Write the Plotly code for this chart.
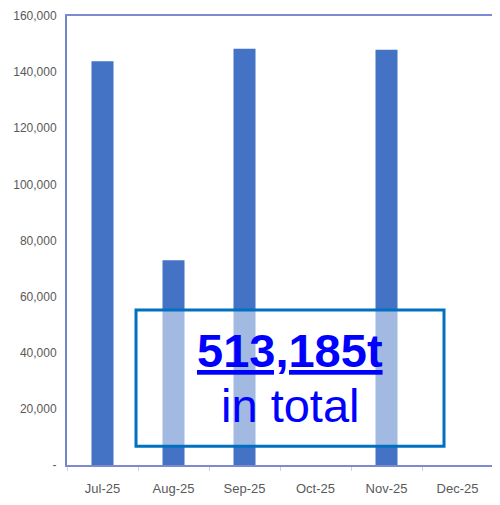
import plotly.graph_objects as go

# monthly tonnes
months = ['Jul-25', 'Aug-25', 'Sep-25', 'Oct-25', 'Nov-25', 'Dec-25']
tonnes = [143900, 73000, 148300, None, 147985, None]
y_ticks = [0, 20000, 40000, 60000, 80000, 100000, 120000, 140000, 160000]
y_tick_text = ['-', '20,000', '40,000', '60,000', '80,000', '100,000', '120,000', '140,000', '160,000']
total_label = '513,185t'

fig = go.Figure()
fig.add_trace(go.Bar(x=months, y=tonnes, marker_color='#4472c4', marker_line_width=0))

# overlay box with the total
fig.add_shape(type='rect', xref='paper', yref='paper', x0=0.162, x1=0.885, y0=0.042, y1=0.345,
              fillcolor='rgba(255,255,255,0.5)', line=dict(color='#0070c0', width=3), layer='above')
fig.add_annotation(xref='paper', yref='paper', x=0.523, y=0.192, showarrow=False,
                   text='<b><u>' + total_label + '</u></b>',
                   font=dict(family='Liberation Sans, Arial', size=47, color='#0000ff'))
fig.add_annotation(xref='paper', yref='paper', x=0.523, y=0.068, showarrow=False,
                   text='in total',
                   font=dict(family='Liberation Sans, Arial', size=47, color='#0000ff'))

# page body adds 8px offset, so margins are shifted accordingly
fig.update_layout(
    width=500, height=505,
    margin=dict(l=59, r=15, t=8, b=48),
    paper_bgcolor='white', plot_bgcolor='white',
    showlegend=False, bargap=0.69,
    font=dict(family='Liberation Sans, Arial', size=12, color='#595959'),
    xaxis=dict(showline=True, mirror=True, linecolor='#7d8ad0', linewidth=2,
               ticks='outside', tickson='boundaries', ticklen=4, tickcolor='#c8d0ea',
               ticklabelstandoff=10, showgrid=False, automargin=False,
               tickfont=dict(size=13)),
    yaxis=dict(range=[0, 160000], tickvals=y_ticks, ticktext=y_tick_text,
               showline=True, mirror=True, linecolor='#6f86c6', linewidth=2,
               showgrid=False, zeroline=False, ticklabelstandoff=6, automargin=False),
)

fig.write_html("out.html")
